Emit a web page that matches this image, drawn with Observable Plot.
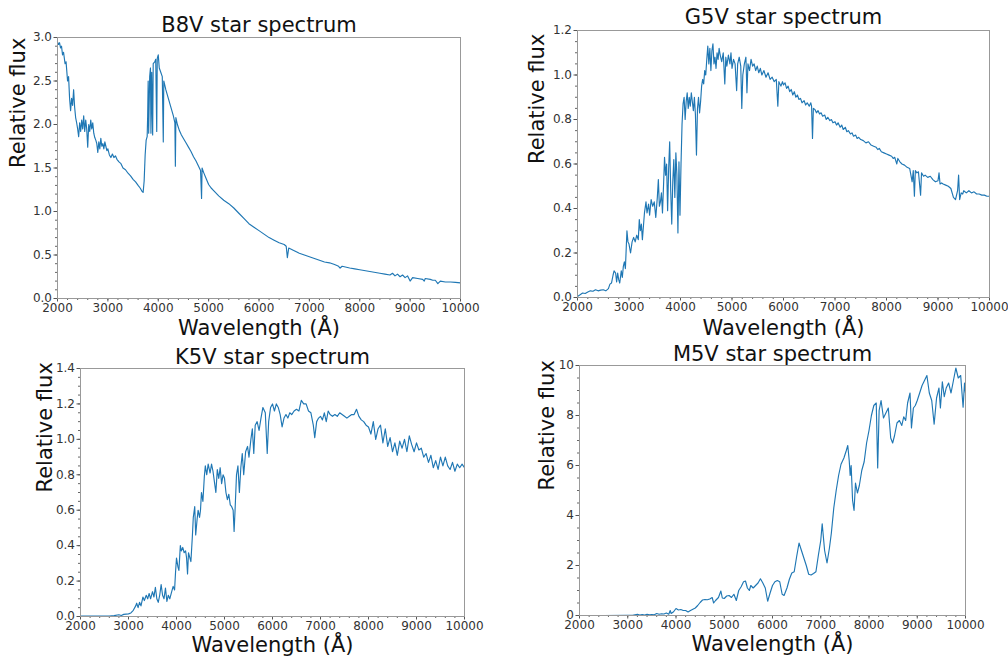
<!DOCTYPE html>
<html><head><meta charset="utf-8">
<script src="https://cdn.jsdelivr.net/npm/d3@7"></script>
<script src="https://cdn.jsdelivr.net/npm/@observablehq/plot@0.6"></script>
<style>
body{margin:0;background:#fff;}
#wrap{position:relative;width:1008px;height:657px;overflow:hidden;font-family:"DejaVu Sans",sans-serif;background:#fff;}
.panel{position:absolute;}
</style></head><body><div id="wrap"></div>
<script>
// ---- data (wavelength in Å, relative flux) ----
const xTicks = [2000,3000,4000,5000,6000,7000,8000,9000,10000];
const titles = ["B8V star spectrum","G5V star spectrum","K5V star spectrum","M5V star spectrum"];
const xLabel = "Wavelength (Å)";
const yLabel = "Relative flux";
const b8vTicks = [0,0.5,1.0,1.5,2.0,2.5,3.0];
const g5vTicks = [0,0.2,0.4,0.6,0.8,1.0,1.2];
const k5vTicks = [0,0.2,0.4,0.6,0.8,1.0,1.2,1.4];
const m5vTicks = [0,2,4,6,8,10];

const b8v = [[2000,2.95],[2020,2.92],[2040,2.94],[2060,2.88],[2080,2.9],[2100,2.8],[2120,2.83],[2150,2.7],[2170,2.72],[2200,2.5],[2220,2.55],[2240,2.3],[2260,2.16],[2280,2.3],[2300,2.22],[2320,2.4],[2340,2.2],[2360,2.08],[2380,2.02],[2400,1.95],[2420,1.86],[2440,2.02],[2460,1.92],[2480,2.05],[2500,1.95],[2520,2.1],[2540,1.92],[2560,2.05],[2580,1.95],[2600,1.74],[2620,2.0],[2640,1.92],[2660,2.05],[2680,1.95],[2700,2.02],[2720,1.9],[2740,1.85],[2760,1.82],[2780,1.78],[2800,1.68],[2820,1.8],[2840,1.72],[2860,1.84],[2880,1.75],[2900,1.78],[2920,1.72],[2940,1.8],[2960,1.75],[2980,1.7],[3000,1.72],[3030,1.65],[3060,1.62],[3090,1.66],[3120,1.62],[3150,1.64],[3180,1.6],[3220,1.57],[3260,1.55],[3300,1.5],[3350,1.48],[3400,1.44],[3450,1.41],[3500,1.37],[3550,1.34],[3600,1.3],[3640,1.27],[3680,1.23],[3700,1.22],[3720,1.35],[3740,1.65],[3760,1.82],[3780,1.86],[3790,2.1],[3800,2.5],[3810,1.9],[3830,2.55],[3845,2.65],[3855,1.9],[3870,2.6],[3889,1.88],[3900,2.7],[3930,2.72],[3950,2.75],[3970,1.92],[3980,2.76],[4000,2.8],[4020,2.65],[4050,2.6],[4080,2.55],[4100,1.8],[4110,2.5],[4150,2.4],[4200,2.3],[4250,2.2],[4300,2.1],[4330,2.02],[4340,1.52],[4350,2.08],[4380,2.0],[4420,1.93],[4460,1.88],[4500,1.84],[4550,1.79],[4600,1.74],[4650,1.69],[4700,1.63],[4750,1.58],[4800,1.52],[4840,1.47],[4860,1.15],[4870,1.5],[4900,1.45],[4950,1.38],[5000,1.31],[5050,1.27],[5100,1.24],[5200,1.18],[5300,1.13],[5400,1.09],[5500,1.04],[5600,0.98],[5700,0.92],[5800,0.86],[5900,0.82],[6000,0.78],[6100,0.74],[6200,0.7],[6300,0.67],[6400,0.64],[6500,0.62],[6540,0.6],[6563,0.47],[6590,0.58],[6700,0.55],[6800,0.52],[6900,0.5],[7000,0.48],[7100,0.46],[7200,0.44],[7300,0.42],[7400,0.41],[7500,0.39],[7580,0.37],[7610,0.35],[7650,0.37],[7800,0.35],[7900,0.34],[8000,0.33],[8200,0.31],[8400,0.29],[8500,0.28],[8600,0.27],[8650,0.29],[8700,0.26],[8750,0.28],[8800,0.25],[8850,0.27],[8900,0.24],[8950,0.26],[9000,0.2],[9050,0.24],[9150,0.23],[9250,0.22],[9280,0.2],[9300,0.23],[9400,0.22],[9450,0.21],[9500,0.21],[9550,0.17],[9600,0.2],[9700,0.19],[9800,0.19],[9900,0.185],[10000,0.18]];

const g5v = [[2000,0.005],[2050,0.012],[2100,0.02],[2150,0.018],[2200,0.025],[2250,0.03],[2300,0.028],[2350,0.035],[2400,0.03],[2450,0.033],[2500,0.035],[2550,0.03],[2600,0.04],[2630,0.06],[2660,0.065],[2690,0.1],[2710,0.12],[2740,0.11],[2760,0.07],[2780,0.11],[2800,0.08],[2820,0.065],[2850,0.12],[2870,0.09],[2890,0.14],[2910,0.16],[2930,0.13],[2960,0.3],[2980,0.25],[3000,0.24],[3030,0.2],[3060,0.25],[3090,0.27],[3120,0.25],[3150,0.28],[3180,0.26],[3200,0.35],[3220,0.3],[3240,0.33],[3260,0.26],[3280,0.32],[3300,0.38],[3330,0.43],[3350,0.38],[3380,0.42],[3400,0.37],[3430,0.44],[3460,0.41],[3490,0.43],[3520,0.36],[3550,0.45],[3570,0.53],[3590,0.41],[3610,0.43],[3630,0.47],[3650,0.38],[3670,0.5],[3690,0.63],[3710,0.55],[3730,0.6],[3750,0.39],[3770,0.58],[3790,0.7],[3810,0.48],[3830,0.33],[3850,0.52],[3870,0.62],[3890,0.45],[3910,0.65],[3930,0.55],[3950,0.29],[3970,0.61],[3990,0.37],[4010,0.6],[4030,0.78],[4050,0.87],[4070,0.9],[4090,0.8],[4110,0.88],[4130,0.92],[4150,0.85],[4170,0.9],[4190,0.86],[4210,0.92],[4230,0.88],[4250,0.84],[4270,0.9],[4290,0.82],[4310,0.64],[4330,0.85],[4350,0.9],[4370,0.83],[4390,0.88],[4410,0.95],[4430,0.98],[4450,0.96],[4470,1.02],[4490,1.0],[4510,1.07],[4530,1.13],[4550,1.05],[4570,1.12],[4590,1.02],[4610,1.11],[4630,1.14],[4650,1.05],[4670,1.08],[4690,1.03],[4710,1.1],[4730,1.07],[4750,1.12],[4770,1.09],[4800,1.06],[4830,1.1],[4860,0.96],[4880,1.08],[4900,1.04],[4930,1.09],[4960,1.05],[4980,1.1],[5000,1.03],[5030,1.07],[5060,1.05],[5090,0.93],[5110,1.05],[5140,1.08],[5170,1.04],[5190,0.85],[5210,1.0],[5240,1.05],[5270,1.08],[5290,0.92],[5310,1.05],[5340,1.02],[5370,1.07],[5400,1.04],[5430,1.05],[5460,1.02],[5490,1.04],[5520,1.01],[5550,1.03],[5580,1.0],[5620,1.02],[5660,0.99],[5700,1.01],[5740,0.98],[5780,0.99],[5820,0.97],[5860,0.98],[5890,0.86],[5910,0.97],[5950,0.95],[5980,0.97],[6000,0.955],[6030,0.965],[6060,0.94],[6090,0.95],[6120,0.925],[6150,0.935],[6180,0.91],[6210,0.925],[6240,0.9],[6270,0.91],[6300,0.89],[6330,0.895],[6360,0.875],[6400,0.885],[6430,0.865],[6460,0.875],[6500,0.86],[6530,0.875],[6545,0.86],[6563,0.715],[6580,0.85],[6610,0.845],[6640,0.83],[6670,0.84],[6700,0.825],[6730,0.83],[6760,0.815],[6800,0.82],[6830,0.8],[6860,0.81],[6900,0.795],[6930,0.8],[6960,0.785],[7000,0.79],[7030,0.775],[7060,0.785],[7100,0.765],[7130,0.775],[7160,0.755],[7200,0.765],[7230,0.745],[7260,0.75],[7300,0.735],[7330,0.74],[7360,0.725],[7400,0.73],[7430,0.715],[7460,0.72],[7500,0.71],[7550,0.705],[7600,0.695],[7650,0.7],[7700,0.685],[7750,0.68],[7800,0.675],[7830,0.665],[7860,0.67],[7900,0.655],[7950,0.65],[8000,0.645],[8050,0.64],[8100,0.635],[8130,0.625],[8160,0.63],[8200,0.6],[8220,0.625],[8260,0.61],[8300,0.6],[8350,0.595],[8400,0.585],[8450,0.58],[8498,0.52],[8520,0.57],[8542,0.455],[8560,0.57],[8590,0.56],[8620,0.565],[8662,0.46],[8680,0.56],[8720,0.545],[8750,0.55],[8800,0.54],[8850,0.545],[8900,0.53],[8950,0.52],[9000,0.525],[9020,0.56],[9040,0.51],[9070,0.515],[9100,0.51],[9150,0.505],[9200,0.5],[9250,0.49],[9300,0.45],[9340,0.44],[9380,0.48],[9400,0.55],[9420,0.44],[9450,0.47],[9480,0.465],[9500,0.48],[9550,0.47],[9600,0.48],[9650,0.47],[9700,0.475],[9750,0.465],[9800,0.465],[9850,0.46],[9900,0.46],[9950,0.455],[10000,0.455]];

const k5v = [[2000,0.002],[2200,0.002],[2400,0.002],[2600,0.003],[2700,0.005],[2800,0.01],[2850,0.006],[2900,0.012],[3000,0.015],[3050,0.02],[3100,0.035],[3150,0.06],[3170,0.075],[3200,0.05],[3230,0.08],[3260,0.06],[3300,0.11],[3330,0.09],[3370,0.12],[3400,0.1],[3430,0.13],[3460,0.1],[3500,0.14],[3530,0.11],[3560,0.165],[3590,0.1],[3620,0.08],[3650,0.12],[3680,0.18],[3710,0.12],[3740,0.1],[3770,0.16],[3800,0.085],[3830,0.12],[3860,0.1],[3900,0.14],[3930,0.17],[3960,0.15],[3980,0.25],[4000,0.33],[4030,0.28],[4050,0.26],[4080,0.4],[4100,0.37],[4130,0.39],[4160,0.36],[4190,0.37],[4210,0.33],[4230,0.24],[4250,0.36],[4280,0.33],[4300,0.31],[4330,0.45],[4350,0.56],[4380,0.62],[4400,0.46],[4430,0.55],[4450,0.6],[4480,0.56],[4500,0.6],[4520,0.7],[4550,0.65],[4580,0.79],[4600,0.85],[4630,0.8],[4660,0.86],[4700,0.81],[4730,0.86],[4760,0.82],[4790,0.76],[4820,0.7],[4850,0.83],[4880,0.78],[4910,0.84],[4940,0.75],[4970,0.8],[5000,0.78],[5030,0.7],[5060,0.66],[5090,0.69],[5120,0.63],[5150,0.62],[5180,0.6],[5200,0.48],[5220,0.6],[5250,0.8],[5280,0.85],[5310,0.7],[5340,0.84],[5370,0.92],[5400,0.8],[5440,0.93],[5480,0.96],[5510,0.9],[5550,1.0],[5580,1.06],[5610,0.92],[5640,1.08],[5680,1.1],[5720,1.05],[5760,1.12],[5800,1.18],[5850,1.15],[5890,0.92],[5920,1.1],[5960,1.18],[6000,1.2],[6040,1.16],[6080,1.2],[6120,1.18],[6160,1.14],[6200,1.07],[6240,1.12],[6280,1.14],[6320,1.12],[6360,1.15],[6400,1.14],[6450,1.16],[6500,1.17],[6550,1.16],[6600,1.22],[6650,1.2],[6700,1.2],[6750,1.16],[6800,1.15],[6850,1.08],[6880,1.01],[6920,1.1],[6960,1.12],[7000,1.13],[7040,1.11],[7080,1.15],[7120,1.1],[7160,1.16],[7200,1.14],[7250,1.13],[7300,1.14],[7350,1.13],[7400,1.15],[7450,1.14],[7500,1.13],[7550,1.12],[7600,1.13],[7650,1.14],[7700,1.14],[7750,1.17],[7800,1.13],[7850,1.11],[7900,1.1],[7950,1.08],[8000,1.07],[8050,1.03],[8100,1.1],[8150,1.0],[8200,1.06],[8250,1.08],[8300,0.98],[8350,1.06],[8400,0.96],[8450,1.01],[8500,0.93],[8550,0.98],[8600,0.91],[8650,0.99],[8700,0.95],[8750,1.0],[8800,0.93],[8850,1.02],[8900,0.97],[8950,0.93],[9000,0.98],[9050,0.94],[9100,0.95],[9150,0.9],[9200,0.92],[9250,0.87],[9300,0.91],[9350,0.84],[9400,0.88],[9450,0.83],[9500,0.9],[9550,0.85],[9600,0.9],[9650,0.85],[9700,0.83],[9750,0.87],[9800,0.82],[9850,0.86],[9900,0.84],[9950,0.86],[10000,0.84]];

const m5v = [[2000,0.0],[2500,0.0],[3000,0.005],[3100,0.01],[3200,0.05],[3250,0.02],[3300,0.04],[3350,0.02],[3400,0.05],[3450,0.03],[3500,0.04],[3550,0.03],[3600,0.08],[3650,0.05],[3700,0.07],[3750,0.06],[3800,0.1],[3850,0.05],[3880,0.2],[3900,0.08],[3950,0.15],[4000,0.28],[4050,0.22],[4100,0.24],[4150,0.2],[4200,0.2],[4250,0.14],[4300,0.2],[4400,0.3],[4450,0.4],[4500,0.52],[4550,0.62],[4600,0.64],[4650,0.63],[4700,0.66],[4750,0.72],[4780,0.5],[4820,0.6],[4880,0.72],[4930,0.98],[4960,0.7],[5000,0.68],[5050,0.78],[5100,0.8],[5150,0.72],[5200,0.85],[5250,0.6],[5300,1.0],[5350,1.15],[5400,1.35],[5440,1.38],[5480,1.1],[5520,1.0],[5550,1.2],[5600,1.1],[5650,1.2],[5700,1.3],[5750,1.47],[5800,1.3],[5850,1.1],[5900,0.57],[5950,0.9],[6000,1.2],[6050,1.35],[6100,1.4],[6150,1.35],[6200,0.85],[6240,0.8],[6300,1.1],[6350,1.45],[6400,1.7],[6450,1.75],[6500,2.35],[6550,2.9],[6600,2.6],[6650,2.3],[6700,2.0],[6750,1.65],[6800,1.62],[6850,1.68],[6900,1.75],[6950,2.4],[7000,3.0],[7030,3.67],[7080,2.6],[7130,2.1],[7180,2.7],[7220,3.3],[7270,4.3],[7320,5.0],[7370,5.6],[7420,6.05],[7480,6.3],[7530,6.6],[7560,6.8],[7590,6.2],[7610,5.6],[7630,6.0],[7660,4.6],[7690,4.2],[7720,5.3],[7760,4.9],[7800,5.2],[7850,5.8],[7900,6.15],[7950,6.9],[8000,7.4],[8050,8.0],[8100,8.4],[8150,8.5],[8180,5.9],[8210,8.2],[8250,8.6],[8300,7.9],[8350,8.1],[8400,8.3],[8450,7.1],[8490,6.9],[8530,7.2],[8580,7.7],[8630,7.8],[8680,7.6],[8720,7.95],[8760,7.8],[8800,8.5],[8850,8.9],[8880,7.5],[8920,8.3],[8960,8.4],[9000,8.6],[9050,8.9],[9100,9.2],[9150,9.4],[9200,9.6],[9250,8.9],[9300,8.6],[9350,7.65],[9400,8.7],[9450,9.1],[9480,8.3],[9520,9.35],[9560,8.75],[9600,9.1],[9650,9.3],[9700,8.9],[9750,9.4],[9800,9.9],[9850,9.5],[9900,9.6],[9950,8.33],[9980,9.3],[10000,8.9]];

// ---- drawing ----
const wrap = document.getElementById("wrap");
const LINE = "#1f77b4";

function panel(cfg) {
  const xMinor = d3.range(2000, 10001, 200);
  const yMinor = d3.range(0, cfg.yMax + cfg.yMinorStep / 2, cfg.yMinorStep);
  const p = Plot.plot({
    width: cfg.width, height: cfg.height,
    marginLeft: cfg.m[0], marginRight: cfg.m[1], marginTop: cfg.m[2], marginBottom: cfg.m[3],
    style: {fontFamily: "'DejaVu Sans', sans-serif", fontSize: "12px", color: "#333", background: "transparent", overflow: "visible"},
    x: {domain: [2000, 10000]},
    y: {domain: [0, cfg.yMax]},
    marks: [
      Plot.axisX({ticks: xMinor, tickSize: 2, tickFormat: () => "", label: null, stroke: "#666"}),
      Plot.axisY({ticks: yMinor, tickSize: 2, tickFormat: () => "", label: null, stroke: "#666"}),
      Plot.axisX({ticks: xTicks, tickSize: 3.5, tickPadding: 1.5, tickFormat: d => String(d), label: null, stroke: "#555"}),
      Plot.axisY({ticks: cfg.yTicks, tickSize: 3.5, tickPadding: 2, tickFormat: cfg.yFormat, label: null, stroke: "#555"}),
      Plot.line(cfg.data, {x: d => d[0], y: d => d[1], stroke: LINE, strokeWidth: 1.15}),
      Plot.frame({stroke: "#999", strokeWidth: 1}),
      Plot.text([cfg.title], {text: d => d, frameAnchor: "top", lineAnchor: "middle", dy: cfg.titleDy, fontSize: 21, fill: "#111"}),
      Plot.text([xLabel], {text: d => d, frameAnchor: "bottom", lineAnchor: "middle", dy: cfg.xLabelDy, fontSize: 21, fill: "#111"}),
      Plot.text([yLabel], {text: d => d, frameAnchor: "left", lineAnchor: "middle", rotate: -90, dx: cfg.yLabelDx, fontSize: 21, fill: "#111"})
    ]
  });
  const div = document.createElement("div");
  div.className = "panel";
  div.style.left = cfg.left + "px";
  div.style.top = cfg.top + "px";
  div.appendChild(p);
  wrap.appendChild(div);
}

const f1 = d3.format(".1f");
panel({data: b8v, title: titles[0], yMax: 3.0, yTicks: b8vTicks, yMinorStep: 0.1, yFormat: f1,
  left: 0, top: 0, width: 500, height: 345, m: [57, 40, 37, 47], titleDy: -12, xLabelDy: 30, yLabelDx: -39});
panel({data: g5v, title: titles[1], yMax: 1.2, yTicks: g5vTicks, yMinorStep: 0.05, yFormat: f1,
  left: 500, top: 0, width: 508, height: 345, m: [77, 19, 30, 48], titleDy: -13, xLabelDy: 31, yLabelDx: -40});
panel({data: k5v, title: titles[2], yMax: 1.4, yTicks: k5vTicks, yMinorStep: 0.05, yFormat: f1,
  left: 0, top: 340, width: 500, height: 317, m: [80, 36, 28, 41], titleDy: -11, xLabelDy: 29, yLabelDx: -35});
panel({data: m5v, title: titles[3], yMax: 10, yTicks: m5vTicks, yMinorStep: 0.5, yFormat: d3.format("d"),
  left: 500, top: 340, width: 508, height: 317, m: [79, 43, 25, 42], titleDy: -11, xLabelDy: 29, yLabelDx: -32});
</script>
</body></html>
